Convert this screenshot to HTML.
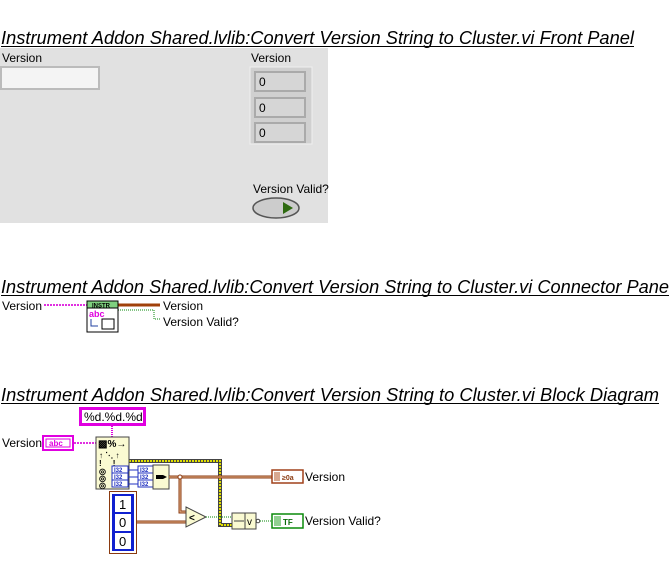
<!DOCTYPE html>
<html><head><style>
body{margin:0;width:669px;height:579px;background:#fff;overflow:hidden;font-family:"Liberation Sans",sans-serif}
</style></head><body>
<svg width="669" height="579" xmlns="http://www.w3.org/2000/svg" font-family="Liberation Sans, sans-serif">
<g font-size="18" font-style="italic" fill="#000">
<text x="1" y="44" textLength="633" lengthAdjust="spacingAndGlyphs">Instrument Addon Shared.lvlib:Convert Version String to Cluster.vi Front Panel</text>
<line x1="1" y1="46.5" x2="634" y2="46.5" stroke="#000"/>
<text x="1" y="293" textLength="668" lengthAdjust="spacingAndGlyphs">Instrument Addon Shared.lvlib:Convert Version String to Cluster.vi Connector Pane</text>
<line x1="1" y1="295.5" x2="669" y2="295.5" stroke="#000"/>
<text x="1" y="401" textLength="658" lengthAdjust="spacingAndGlyphs">Instrument Addon Shared.lvlib:Convert Version String to Cluster.vi Block Diagram</text>
<line x1="1" y1="403.5" x2="659" y2="403.5" stroke="#000"/>
</g>
<!-- front panel -->
<rect x="0" y="48" width="328" height="175" fill="#e1e1e1"/>
<g font-size="12" fill="#000">
<text x="2" y="62">Version</text>
<text x="251" y="62">Version</text>
<text x="253" y="193">Version Valid?</text>
</g>
<rect x="1" y="67" width="98" height="22" fill="#f4f4f4" stroke="#bbb" stroke-width="2"/>
<rect x="250" y="67" width="62" height="77" fill="#d0d0d0" stroke="#f0f0f0" stroke-width="1"/>
<g fill="#d6d6d6" stroke="#aaa" stroke-width="2">
<rect x="255" y="72" width="50" height="19"/><rect x="255" y="98" width="50" height="19"/><rect x="255" y="123" width="50" height="19"/>
</g>
<g font-size="12" fill="#000"><text x="259" y="86">0</text><text x="259" y="112">0</text><text x="259" y="137">0</text></g>
<ellipse cx="276" cy="208" rx="23" ry="10" fill="#ccc" stroke="#555" stroke-width="1.5"/>
<path d="M283 202 L293 208 L283 214Z" fill="#2e6a10"/>
<!-- connector pane -->
<g font-size="12" fill="#000">
<text x="2" y="310">Version</text>
<text x="163" y="310">Version</text>
<text x="163" y="326">Version Valid?</text>
</g>
<line x1="44" y1="305" x2="87" y2="305" stroke="#e030e0" stroke-width="2" stroke-dasharray="2,1"/>
<line x1="118" y1="305" x2="160" y2="305" stroke="#a0400a" stroke-width="3"/>
<path d="M118 310 H154 V319 H160" fill="none" stroke="#0a8a0a" stroke-dasharray="1,1"/>
<rect x="87" y="301" width="31" height="31" fill="#fff" stroke="#000"/>
<rect x="87" y="301" width="31" height="7" fill="#7fd07f" stroke="#000"/>
<text x="92" y="307.5" font-size="6" font-weight="bold">INSTR</text>
<text x="89" y="317" font-size="9" font-weight="bold" fill="#e000e0">abc</text>
<path d="M91 319 V326 H98" fill="none" stroke="#2040a0"/>
<rect x="102" y="319" width="12" height="10" fill="#fff" stroke="#000"/>
<!-- block diagram -->
<g font-size="12" fill="#000">
<text x="2" y="447">Version</text>
<text x="305" y="481">Version</text>
<text x="305" y="525">Version Valid?</text>
</g>
<rect x="80.5" y="408.5" width="64" height="16" fill="#fff" stroke="#e000e0" stroke-width="3"/>
<text x="84" y="421" font-size="12">%d.%d.%d</text>
<line x1="112" y1="426" x2="112" y2="437" stroke="#e000e0" stroke-width="2" stroke-dasharray="1,1"/>
<rect x="43" y="436" width="30" height="14" fill="#fff" stroke="#e000e0" stroke-width="2"/>
<rect x="46" y="439" width="24" height="8" fill="none" stroke="#e000e0"/>
<text x="49" y="446" font-size="8" font-weight="bold" fill="#e000e0">abc</text>
<line x1="74" y1="443" x2="96" y2="443" stroke="#e030e0" stroke-width="2" stroke-dasharray="2,1"/>
<path d="M129 461 H220 V525 H232" fill="none" stroke="#444" stroke-width="4"/>
<path d="M129 461 H220 V525 H232" fill="none" stroke="#e0e000" stroke-width="2" stroke-dasharray="2,1"/>
<rect x="96" y="437" width="33" height="52" fill="#fafad2" stroke="#444"/>
<text x="98" y="447" font-size="10" font-weight="bold">▩%→</text>
<g font-size="8" font-weight="bold"><text x="99" y="458">↑ ⋱ ↑</text><text x="99" y="466">!&#160;&#160;&#160;&#160;&#160;!</text>
<text x="99" y="474">◎</text><text x="99" y="481">◎</text><text x="99" y="488">◎</text></g>
<g stroke="#2030c0" stroke-width="1">
<line x1="128" y1="470" x2="138" y2="470"/><line x1="128" y1="477" x2="138" y2="477"/><line x1="128" y1="484" x2="138" y2="484"/>
</g>
<g fill="#fff" stroke="#2030c0">
<rect x="112" y="466" width="16" height="7"/><rect x="112" y="473" width="16" height="7"/><rect x="112" y="480" width="16" height="7"/>
<rect x="138" y="466" width="15" height="7"/><rect x="138" y="473" width="15" height="7"/><rect x="138" y="480" width="15" height="7"/>
</g>
<g font-size="6" font-weight="bold" fill="#2030c0"><text x="114" y="472">I32</text><text x="114" y="479">I32</text><text x="114" y="486">I32</text>
<text x="140" y="472">I32</text><text x="140" y="479">I32</text><text x="140" y="486">I32</text></g>
<rect x="153" y="465" width="16" height="24" fill="#fafad2" stroke="#444"/>
<path d="M156 475 H163 L167 477 L163 479 H156Z" fill="#000"/>
<g fill="none" stroke="#8a3a10" stroke-width="3">
<path d="M169 477 H272"/><path d="M180 477 V512 H186"/><path d="M137 522 H186"/>
</g>
<g fill="none" stroke="#e8b890" stroke-width="1">
<path d="M169 477 H272"/><path d="M180 477 V512 H186"/><path d="M137 522 H186"/>
</g>
<circle cx="180" cy="477" r="2" fill="#fff" stroke="#8a3a10"/>
<rect x="272" y="470" width="31" height="13" fill="#fff" stroke="#a0401a" stroke-width="1.5"/>
<rect x="274" y="472" width="6" height="9" fill="#d8a890"/>
<text x="282" y="480" font-size="7" font-weight="bold" fill="#8a3a10">≥0a</text>
<rect x="109.5" y="491.5" width="27" height="62" fill="#fff" stroke="#8a3a10"/>
<rect x="112" y="494" width="22" height="57" fill="#1020d0"/>
<g fill="#fff"><rect x="115" y="496" width="16" height="16"/><rect x="115" y="514" width="16" height="17"/><rect x="115" y="533" width="16" height="16"/></g>
<g font-size="13" fill="#000"><text x="119" y="509">1</text><text x="119" y="527">0</text><text x="119" y="546">0</text></g>
<path d="M186 507 L206 517 L186 527Z" fill="#fafad2" stroke="#444"/>
<text x="189" y="521" font-size="10" font-weight="bold">&lt;</text>
<line x1="206" y1="517" x2="232" y2="517" stroke="#0a8a0a" stroke-dasharray="1,1"/>
<rect x="232" y="513" width="24" height="16" fill="#fafad2" stroke="#444"/>
<line x1="245" y1="513" x2="245" y2="529" stroke="#444"/>
<line x1="234" y1="521" x2="244" y2="521" stroke="#444"/>
<text x="247" y="525" font-size="10">v</text>
<circle cx="258" cy="521" r="1.8" fill="#fff" stroke="#444"/>
<line x1="260" y1="521" x2="272" y2="521" stroke="#0a8a0a" stroke-dasharray="1,1"/>
<rect x="272" y="514" width="31" height="14" fill="#fff" stroke="#0a8a0a" stroke-width="1.5"/>
<rect x="274" y="516" width="7" height="10" fill="#90d090"/>
<text x="283" y="525" font-size="8" font-weight="bold" fill="#0a6a0a">TF</text>
</svg>
</body></html>
